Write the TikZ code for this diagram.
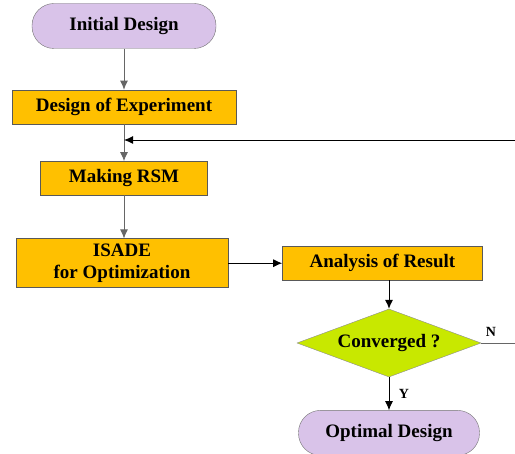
\documentclass[tikz,border=0pt]{standalone}
\usepackage{fontspec}
\setmainfont{Liberation Serif}
\usepackage{tikz}
\usetikzlibrary{shapes.geometric,arrows.meta,positioning}
\usepackage{xcolor}
\definecolor{lilac}{HTML}{D9C3E9}
\definecolor{amber}{HTML}{FFC000}
\definecolor{lime}{HTML}{C8E800}

\begin{document}
\begin{tikzpicture}[
    x=1pt, y=-1pt,
    node distance=40pt and 54pt,
    every node/.style={font=\fontsize{19}{22}\selectfont\bfseries},
    terminal/.style={draw=black!55, rectangle, rounded corners=22pt, fill=lilac,
                     minimum width=184pt, minimum height=45pt, inner sep=0pt},
    process/.style={draw=black!65, rectangle, fill=amber, inner sep=0pt,
                    minimum height=34pt, align=center},
    decision/.style={draw=black!45, diamond, fill=lime, aspect=2.7, inner sep=0pt,
                     minimum width=184pt, minimum height=68pt},
    flow/.style={-{Latex[length=9pt,width=8pt]}, draw=black!60, line width=0.9pt},
    flowk/.style={-{Latex[length=9pt,width=8pt]}, draw=black, line width=0.9pt},
    tag/.style={font=\fontsize{14}{16}\selectfont\bfseries},
]
\clip (0,0) rectangle (515,454);

%% Main column
\node[terminal] (init)  at (124,26)           {Initial Design};
\node[process, minimum width=224pt] (doe)  [below=41pt of init] {Design of Experiment};
\node[process, minimum width=167pt] (rsm)  [below=37pt of doe]  {Making RSM};
\node[process, minimum width=212pt, minimum height=49pt, xshift=-2pt]
      (isade) [below=43pt of rsm] {ISADE\\for Optimization};

%% Right column
\node[process, minimum width=200pt] (anal)  [right=54pt of isade] {Analysis of Result};
\node[decision] (conv)  at (389,343)          {Converged ?};
\node[terminal, minimum width=181pt] (opt)  [below=33pt of conv] {Optimal Design};

%% Column arrows
\draw[flow] (init) -- (doe);
\draw[flow] (doe) -- (rsm);
\draw[flow] (rsm) -- (rsm.south |- isade.north);
\draw[flowk] (isade) -- (anal);
\draw[flowk] (anal.south -| conv.north) -- (conv.north);
\draw[flowk] (conv) -- node[tag, right=6pt]{Y} (opt);

%% Feedback loop (runs off the right edge)
\coordinate (join) at (124,140);
\coordinate (turn) at (530,140);
\draw[draw=black!60, line width=0.9pt] (conv.east) -- node[tag, above=3pt, pos=0.2]{N}
      (conv.east -| turn) -- (turn);
\draw[flowk] (turn) -- (join);

\end{tikzpicture}
\end{document}
